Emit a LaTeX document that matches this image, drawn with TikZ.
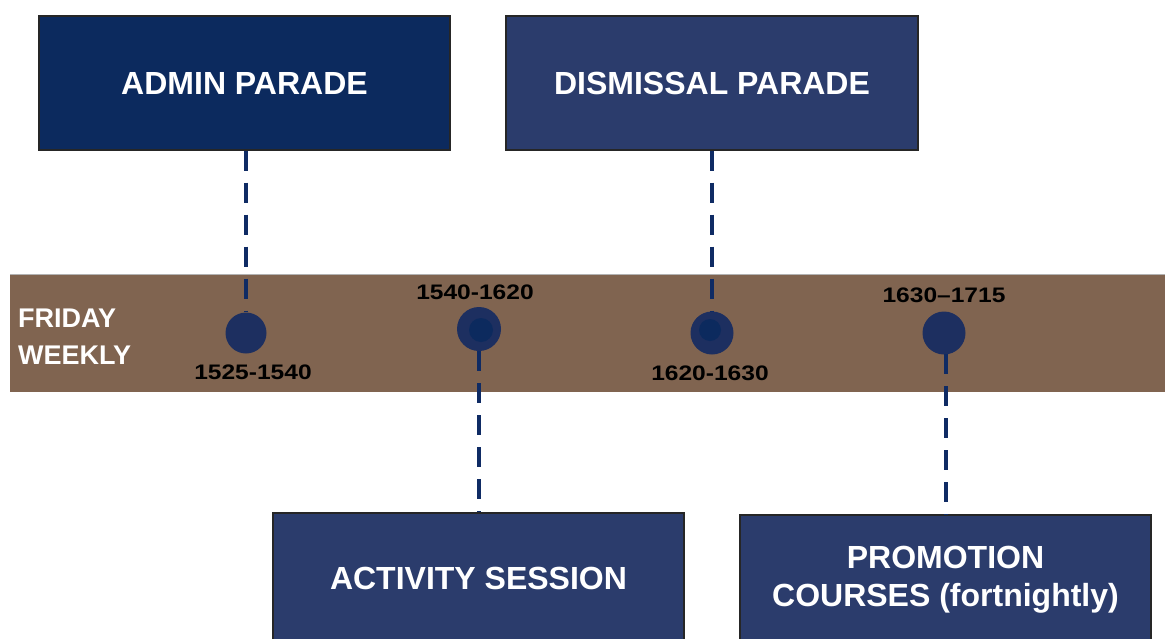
\documentclass[tikz,border=0pt]{standalone}
\usepackage{fontspec}
\setmainfont{Liberation Sans}
\definecolor{bandbrown}{HTML}{806450}
\definecolor{navyA}{HTML}{0C2A5E}
\definecolor{navyB}{HTML}{2B3C6C}
\definecolor{dotblue}{HTML}{1D2F60}
\definecolor{dashblue}{HTML}{0F2B64}
\tikzset{
  evbox/.style={draw=black!85, line width=1.2pt, text=white, inner sep=0pt,
    font=\fontsize{32}{39}\selectfont\bfseries, align=center, minimum width=411pt},
  dot/.style={circle, fill=dotblue, draw=none, minimum size=41pt, inner sep=0pt},
  innerdot/.style={circle, fill=navyA, draw=none, minimum size=24pt, inner sep=0pt},
  timelbl/.style={font=\fontsize{21}{24}\selectfont\bfseries, text=black, inner sep=0pt},
  link/.style={dashblue, line width=3.6pt, dash pattern=on 20pt off 12pt},
}
\begin{document}
\begin{tikzpicture}[x=1pt, y=-1pt]
\useasboundingbox (0,0) rectangle (1165,638);
\clip (0,0) rectangle (1165,638);
% band
\fill[bandbrown] (10,274) rectangle (1170,392);
\draw[gray!60, line width=1pt] (10,274) -- (1170,274);
\node[font=\fontsize{27}{37}\selectfont\bfseries, text=white, align=left, anchor=west, inner sep=0pt] (fri) at (18,337) {FRIDAY\\WEEKLY};
% boxes
\node[evbox, fill=navyA, minimum height=134pt] (adm) at (244.5,83) {ADMIN PARADE};
\node[evbox, fill=navyB, minimum height=134pt, minimum width=412pt] (dis) at (712,83) {DISMISSAL PARADE};
\node[evbox, fill=navyB, minimum height=130pt] (act) at (478.5,578) {ACTIVITY SESSION};
\node[evbox, fill=navyB, minimum height=130pt] (pro) at (945.5,580) {PROMOTION\\[-1pt]COURSES (fortnightly)};
% dots
\node[dot] (c1) at (246,333) {};
\node[dot, minimum width=44pt, minimum height=41pt] (c2) at (479,329) {};
\node[innerdot] at (481,330) {};
\node[dot, minimum size=43pt] (c3) at (712,333) {};
\node[innerdot, minimum size=22pt] at (710,330) {};
\node[dot, minimum size=43pt] (c4) at (944,333) {};
% connectors
\draw[link] (adm.south -| c1) -- (c1.north);
\draw[link] (c2.south) -- (c2.south |- act.north);
\draw[link] (dis.south -| c3) -- (c3.north);
\coordinate (c4b) at (946,354);
\draw[link] (c4b) -- (c4b |- pro.north);
% labels
\node[timelbl] (l1) at (253,372) {\scalebox{1.17}[1]{1525-1540}};
\node[timelbl] (l2) at (475,292) {\scalebox{1.17}[1]{1540-1620}};
\node[timelbl] (l3) at (710,373) {\scalebox{1.17}[1]{1620-1630}};
\node[timelbl] (l4) at (944,295) {\scalebox{1.17}[1]{1630–1715}};
\end{tikzpicture}
\end{document}
